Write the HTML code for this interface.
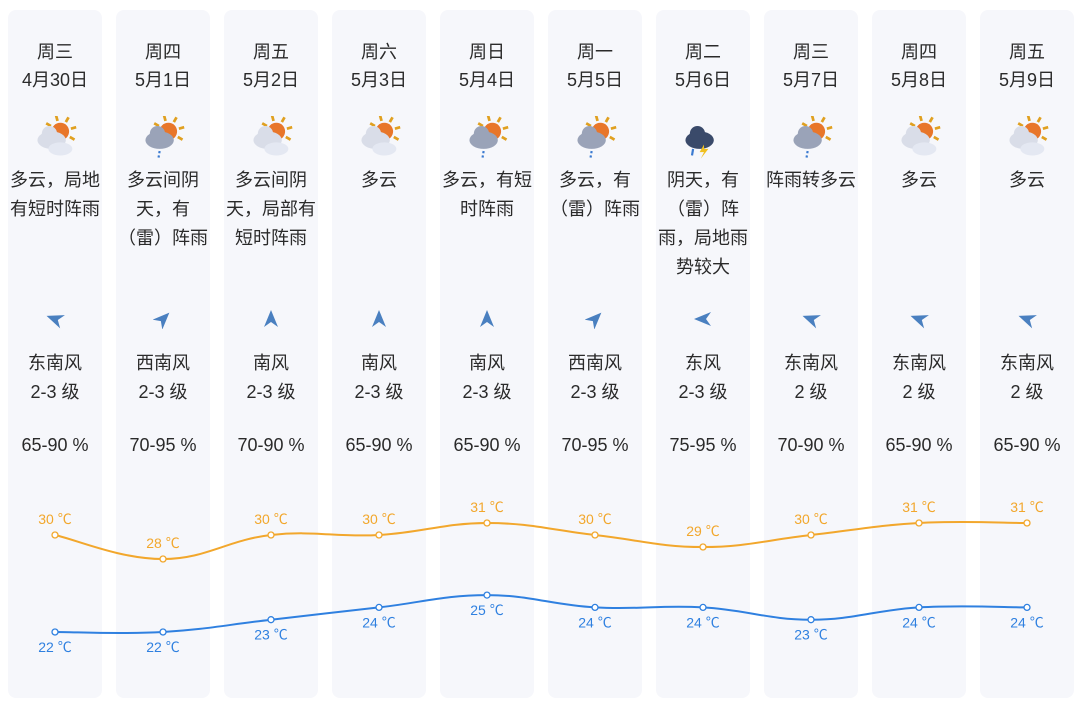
<!DOCTYPE html>
<html><head><meta charset="utf-8">
<style>
body{margin:0;width:1080px;height:711px;background:#fff;font-family:"Liberation Sans","Noto Sans CJK SC",sans-serif;color:#2a2a2a;position:relative;overflow:hidden}
.col{position:absolute;top:10px;width:94px;height:688px;background:#f6f7fb;border-radius:8px}
.t{position:absolute;width:108px;text-align:center;font-size:18px;line-height:29px;white-space:nowrap}
svg{position:absolute;left:0;top:0}
</style></head><body>
<div id="root"></div>
<svg id="chart" width="1080" height="711"></svg>
<script>
const weekdays=["周三","周四","周五","周六","周日","周一","周二","周三","周四","周五"];
const dates=["4月30日","5月1日","5月2日","5月3日","5月4日","5月5日","5月6日","5月7日","5月8日","5月9日"];
const descs=[["多云，局地","有短时阵雨"],["多云间阴","天，有","（雷）阵雨"],["多云间阴","天，局部有","短时阵雨"],["多云"],["多云，有短","时阵雨"],["多云，有","（雷）阵雨"],["阴天，有","（雷）阵","雨，局地雨","势较大"],["阵雨转多云"],["多云"],["多云"]];
const icons=["sun","rain","sun","sun","rain","rain","storm","rain","sun","sun"];
const windNames=["东南风","西南风","南风","南风","南风","西南风","东风","东南风","东南风","东南风"];
const windDeg=[-70,45,0,0,0,45,-90,-70,-70,-70];
const windLevels=["2-3 级","2-3 级","2-3 级","2-3 级","2-3 级","2-3 级","2-3 级","2 级","2 级","2 级"];
const humidity=["65-90 %","70-95 %","70-90 %","65-90 %","65-90 %","70-95 %","75-95 %","70-90 %","65-90 %","65-90 %"];
const highs=[30,28,30,30,31,30,29,30,31,31];
const lows=[22,22,23,24,25,24,24,23,24,24];
const root=document.getElementById('root');
const cx=i=>55+i*108;
const yHigh=t=>535-(t-30)*12;
const yLow=t=>632-(t-22)*12.3;
function txt(s,x,y,name){const d=document.createElement('div');d.className='t';d.style.left=(x-54)+'px';d.style.top=(y-14)+'px';d.textContent=s;


root.appendChild(d);return d;}
function icon(kind){
 let s='<svg width="48" height="44" viewBox="0 0 44 40" style="position:absolute;left:24px;top:106px">';
 if(kind!=='storm'){s+='<g stroke="#e0a020" stroke-width="2.5">';for(let a=-150;a<=30;a+=45){const r=a*Math.PI/180;s+=`<line x1="${26+10*Math.cos(r)}" y1="${14+10*Math.sin(r)}" x2="${26+15*Math.cos(r)}" y2="${14+15*Math.sin(r)}"/>`;}s+='</g><circle cx="26" cy="14" r="8" fill="#e8762a"/>';}
 const c=kind==='sun'?'#d9dde8':kind==='storm'?'#3a4a6a':'#9aa3b8';
 s+=`<ellipse cx="18" cy="22" rx="13" ry="8" fill="${c}"/><circle cx="16" cy="16" r="7" fill="${c}"/>`;
 if(kind==='sun')s+='<ellipse cx="26" cy="30" rx="11" ry="6" fill="#e4e8f2"/>';
 if(kind==='rain')s+='<line x1="18" y1="32" x2="17" y2="38" stroke="#3a7ad0" stroke-width="2" stroke-dasharray="2 2"/>';
 if(kind==='storm')s+='<path d="M22 26 L18 33 L22 33 L19 39 L26 30 L22 30 Z" fill="#f0c020"/><line x1="12" y1="30" x2="11" y2="36" stroke="#3a7ad0" stroke-width="2"/>';
 return s+'</svg>';}
for(let i=0;i<10;i++){
 const col=document.createElement('div');col.className='col';col.style.left=(8+i*108)+'px';
 
 
 col.innerHTML=icon(icons[i]);
 col.innerHTML+=`<svg width="20" height="20" viewBox="-10 -10 20 20" style="position:absolute;left:37px;top:299px"><path d="M0 -9 L7 8 L0 3 L-7 8 Z" fill="#4a80c0" transform="rotate(${windDeg[i]})"/></svg>`;
 root.appendChild(col);
 txt(weekdays[i],cx(i),52,'weekday-'+i);
 txt(dates[i],cx(i),80,'date-'+i);
 descs[i].forEach((l,j)=>txt(l,cx(i),180+j*29,'weather-desc-'+i));
 txt(windNames[i],cx(i),363,'wind-direction-'+i);
 txt(windLevels[i],cx(i),392,'wind-level-'+i);
 txt(humidity[i],cx(i),445,'humidity-'+i);
}
const svg=document.getElementById('chart');const NS='http://www.w3.org/2000/svg';
function path(pts){let d=`M${pts[0][0]},${pts[0][1]}`;for(let i=0;i<pts.length-1;i++){const p0=pts[Math.max(0,i-1)],p1=pts[i],p2=pts[i+1],p3=pts[Math.min(pts.length-1,i+2)];const t=0.2;d+=` C${p1[0]+(p2[0]-p0[0])*t},${p1[1]+(p2[1]-p0[1])*t} ${p2[0]-(p3[0]-p1[0])*t},${p2[1]-(p3[1]-p1[1])*t} ${p2[0]},${p2[1]}`;}return d;}
function series(vals,yf,color,name,dy){
 const pts=vals.map((v,i)=>[cx(i),yf(v)]);
 const p=document.createElementNS(NS,'path');p.setAttribute('d',path(pts));p.setAttribute('fill','none');p.setAttribute('stroke',color);p.setAttribute('stroke-width','2');
 
 
 svg.appendChild(p);
 pts.forEach((q,i)=>{const c=document.createElementNS(NS,'circle');c.setAttribute('cx',q[0]);c.setAttribute('cy',q[1]);c.setAttribute('r','3');c.setAttribute('fill','#fff');c.setAttribute('stroke',color);c.setAttribute('stroke-width','1.3');
 
 
 svg.appendChild(c);
 const t=document.createElementNS(NS,'text');t.setAttribute('x',q[0]);t.setAttribute('y',q[1]+dy);t.setAttribute('text-anchor','middle');t.setAttribute('fill',color);t.setAttribute('font-size','14');t.textContent=vals[i]+' ℃';
 
 
 svg.appendChild(t);});
}
series(highs,yHigh,'#f2a72c','high-temp',-11);
series(lows,yLow,'#2f80e0','low-temp',20);
</script>
</body></html>
